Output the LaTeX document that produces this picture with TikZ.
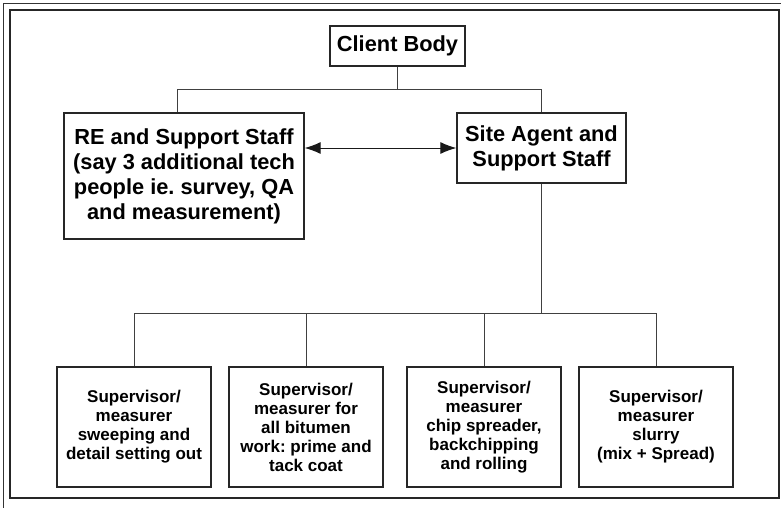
\documentclass[tikz,border=0pt]{standalone}
\usepackage{fontspec}
\setmainfont{Liberation Sans}
\usetikzlibrary{arrows.meta}
\frenchspacing
\begin{document}
\begin{tikzpicture}[x=1pt,y=-1pt,
    box/.style={draw=black!85, line width=1.3pt, align=center, inner sep=0pt,
      font=\bfseries\fontsize{21.8}{25}\selectfont},
    subbox/.style={box, minimum width=154pt, minimum height=120pt,
      font=\bfseries\fontsize{17}{19}\selectfont},
    link/.style={draw=black!75, line width=1pt}]
    \clip (0,0) rectangle (781,508);
    \draw[black!80, line width=0.8pt] (3,3) rectangle (800,530);
    \draw[black!85, line width=1.2pt] (10,10) rectangle (779,498);
    % top level
    \node[box, minimum width=135pt, minimum height=40pt] (client) at (397.5,46) {Client Body};
    \node[box, minimum width=240pt, minimum height=126pt] (re) at (184,176) {RE and Support Staff\\(say 3 additional tech\\people ie. survey, QA\\and measurement)};
    \node[box, minimum width=169pt, minimum height=70pt] (site) at (541.5,148) {Site Agent and\\Support Staff};
    % supervisors
    \node[subbox] (sweep) at (134,427) {Supervisor/\\measurer\\sweeping and\\detail setting out};
    \node[subbox] (prime) at (306,427) {Supervisor/\\measurer for\\all bitumen\\work: prime and\\tack coat};
    \node[subbox] (chip) at (484,427) {Supervisor/\\measurer\\chip spreader,\\backchipping\\and rolling};
    \node[subbox] (slurry) at (656,427) {Supervisor/\\measurer\\slurry\\(mix + Spread)};
    % connectors
    \draw[link] (client.south) -- ++(0,23) coordinate (split);
    \draw[link] (split) -| ([xshift=-7pt]re.north);
    \draw[link] (split) -| (site.north);
    \draw[link, draw=black!90, {Latex[length=16pt,width=12pt]}-{Latex[length=16pt,width=12pt]}] (re.east |- site.west) -- (site.west);
    \path (site.south) ++(0,130) coordinate (bus);
    \draw[link] (site.south) -- (bus);
    \foreach \n in {sweep,prime,chip,slurry}
        \draw[link] (bus) -| (\n.north);
\end{tikzpicture}
\end{document}
